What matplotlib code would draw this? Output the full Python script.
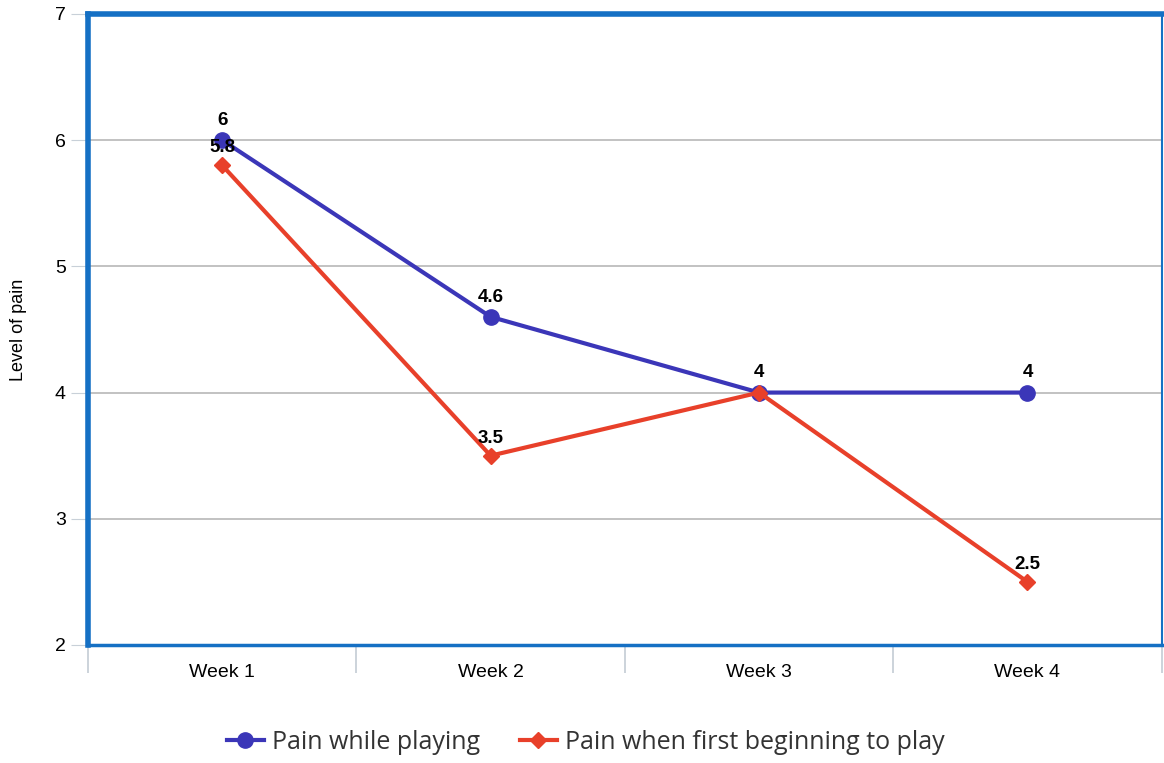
import numpy as np
import matplotlib.pyplot as plt
from matplotlib.lines import Line2D

weeks = ["Week 1", "Week 2", "Week 3", "Week 4"]
pain_playing = [6, 4.6, 4, 4]
pain_beginning = [5.8, 3.5, 4, 2.5]
playing_labels = ["6", "4.6", "4", "4"]
beginning_labels = ["5.8", "3.5", "", "2.5"]

blue = "#3b36b8"
red = "#e8402a"
frame = "#1570c4"

plt.rcParams['font.family'] = ['Liberation Sans', 'DejaVu Sans']

fig = plt.figure(figsize=(11.64, 7.63), dpi=100)
ax = fig.add_axes([0.0756, 0.1547, 0.9224, 0.827])

x = np.arange(len(weeks))
ax.plot(x, pain_playing, color=blue, lw=3, marker='o', ms=11, zorder=3)
ax.plot(x, pain_beginning, color=red, lw=3, marker='D', ms=8, zorder=4)

# value labels above the points
for xi, yi, t in zip(x, pain_playing, playing_labels):
    ax.annotate(t, (xi, yi), xytext=(0, 8), textcoords='offset points',
                ha='center', va='bottom', fontsize=13.5, fontweight='bold', zorder=5)
for xi, yi, t in zip(x, pain_beginning, beginning_labels):
    if t:
        ax.annotate(t, (xi, yi), xytext=(0, 6.5), textcoords='offset points',
                    ha='center', va='bottom', fontsize=13.5, fontweight='bold', zorder=5)

ax.set_xlim(-0.5, 3.5)
ax.set_ylim(2, 7)
ax.set_yticks([2, 3, 4, 5, 6, 7])
ax.yaxis.grid(True, color='#bdbdbd', lw=1.3)
ax.set_axisbelow(True)
ax.tick_params(axis='y', length=12, color='#c8d0d8', labelsize=14, pad=4)

ax.set_xticks(x)
ax.set_xticklabels(weeks, fontsize=14)
ax.set_xticks(np.arange(-0.5, 4.0, 1.0), minor=True)
ax.tick_params(axis='x', which='major', length=0, pad=14)
ax.tick_params(axis='x', which='minor', length=20, color='#c8d0d8', width=1.3)

ax.set_ylabel("Level of pain", fontsize=13, labelpad=20)

for side, w in [('left', 4), ('top', 4), ('bottom', 2.5), ('right', 1.5)]:
    ax.spines[side].set_color(frame)
    ax.spines[side].set_linewidth(w)

handles = [Line2D([], [], color=blue, lw=3, marker='o', ms=11),
           Line2D([], [], color=red, lw=3, marker='D', ms=8)]
fig.legend(handles, ["Pain while playing", "Pain when first beginning to play"],
           loc='center', bbox_to_anchor=(0.503, 0.027), ncol=2, frameon=False,
           prop={'family': 'Open Sans', 'size': 18}, labelcolor='#333333',
           handlelength=1.5, handletextpad=0.3, columnspacing=1.6)

fig.savefig("out.png", dpi=100)
